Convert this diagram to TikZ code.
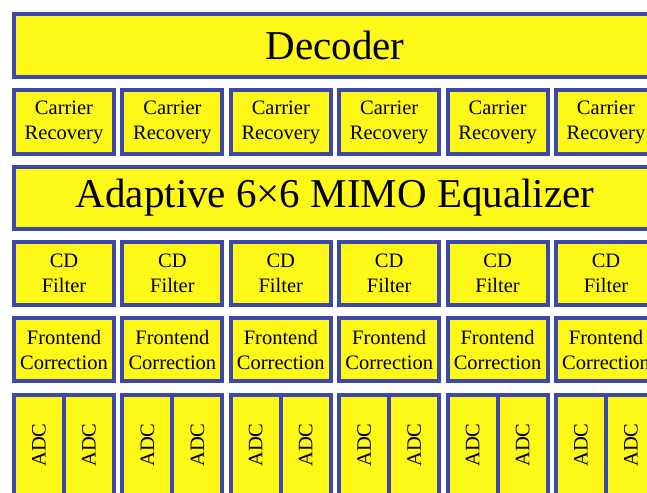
\documentclass[tikz,border=0pt]{standalone}
\usepackage{fontspec}
\setmainfont{Liberation Serif}
\newfontfamily\labelfont{Liberation Serif}
\definecolor{boxblue}{RGB}{62,72,168}
\definecolor{boxfill}{RGB}{253,248,24}
\begin{document}
\begin{tikzpicture}[x=1pt,y=-1pt,
  blk/.style={draw=boxblue,fill=boxfill,line width=4pt,inner sep=0pt,
    align=center,text=black},
  wide/.style={blk,minimum width=642pt,font=\labelfont\fontsize{41}{45}\selectfont},
  unit/.style={blk,minimum width=100pt,minimum height=63pt,
    font=\labelfont\fontsize{20.5}{25}\selectfont},
  adc/.style={blk,rotate=90,minimum width=100pt,minimum height=50pt,
    font=\labelfont\fontsize{20.5}{25}\selectfont}]
  \useasboundingbox (0,0) rectangle (647,492);
  \clip (0,0) rectangle (647,492);
  \fill[white] (0,0) rectangle (647,492);

  % full-width stages
  \node[wide,minimum height=63pt] (dec) at (335,45.5) {Decoder};
  \node[wide,minimum height=62pt] (eq) at (335,198) {Adaptive 6×6 MIMO Equalizer};

  % per-lane stages
  \foreach \i in {0,...,5}{
    \pgfmathsetmacro\cx{64+108.4*\i}
    \node[unit,minimum height=64pt] (cr\i) at (\cx,122) {Carrier\\Recovery};
    \node[unit] (cd\i) at (\cx,273.5) {CD\\Filter};
    \node[unit] (fe\i) at (\cx,349.5) {Frontend\\Correction};
    \node[adc] (adcA\i) at (\cx-25,445) {ADC};
    \node[adc] (adcB\i) at (\cx+25,445) {ADC};
  }
\end{tikzpicture}
\end{document}
